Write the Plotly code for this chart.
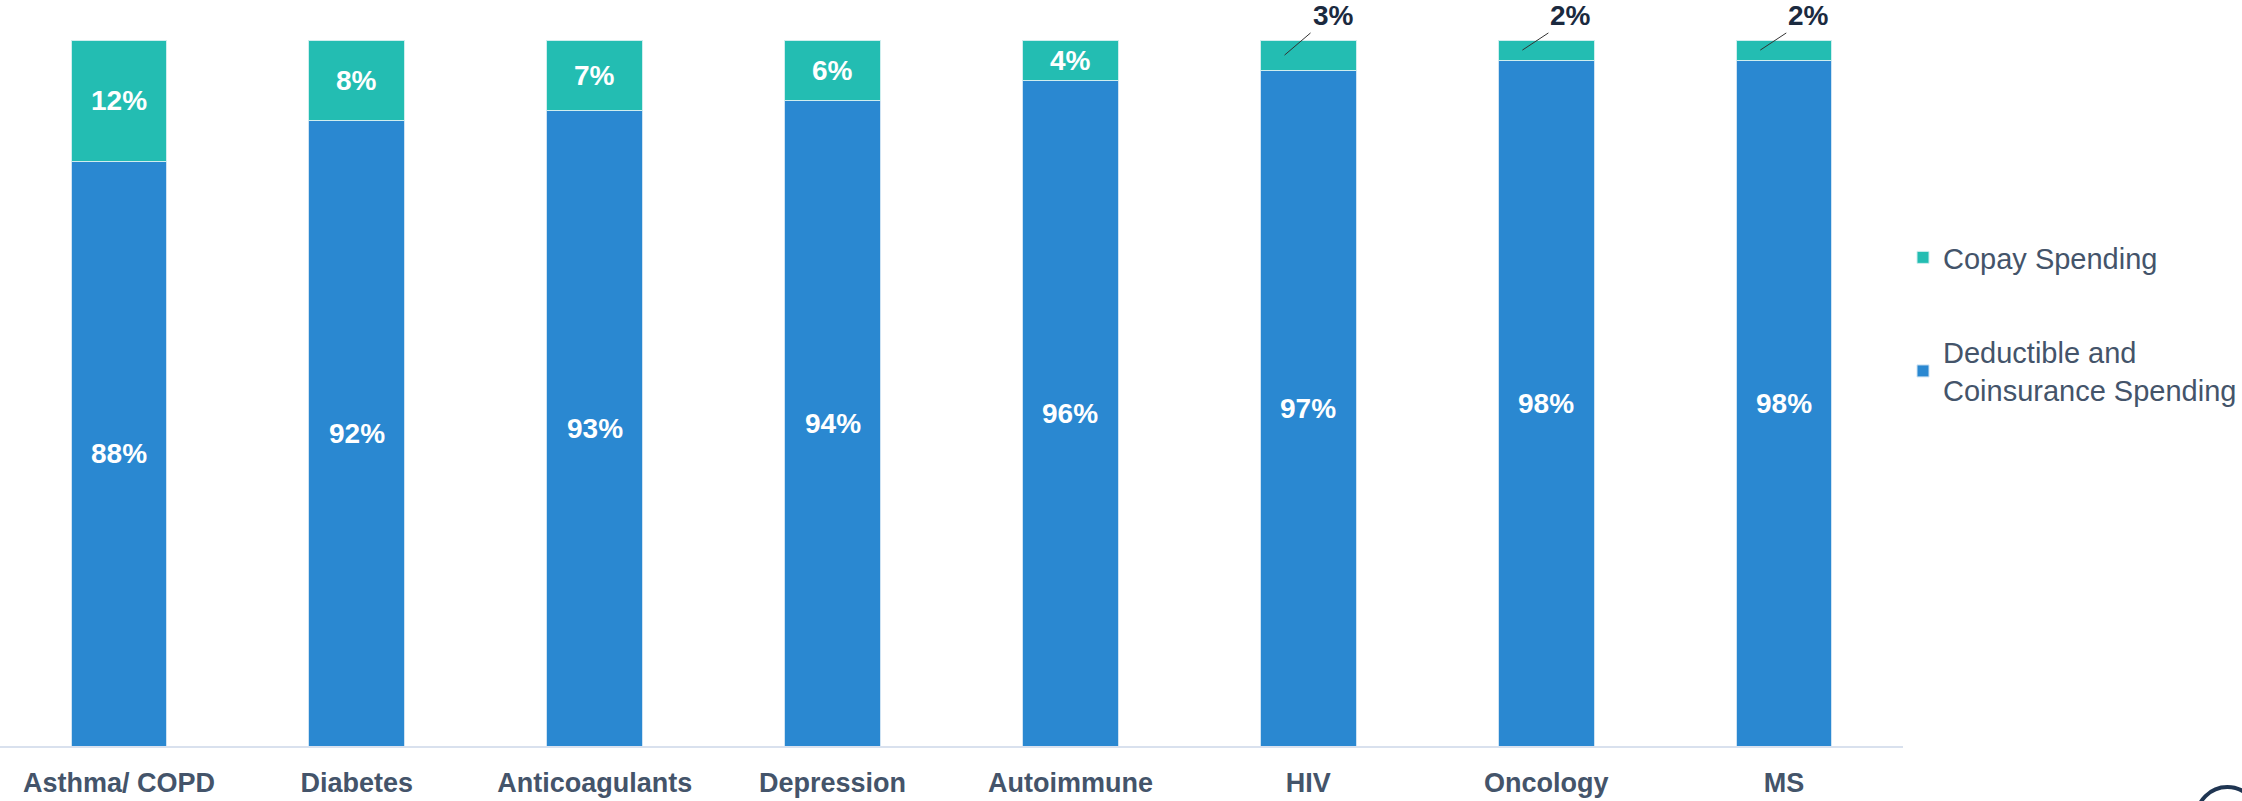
import plotly.graph_objects as go

categories = ["Asthma/ COPD", "Diabetes", "Anticoagulants", "Depression",
              "Autoimmune", "HIV", "Oncology", "MS"]
deductible = [88, 92, 93, 94, 96, 97, 98, 98]
copay = [12, 8, 7, 6, 4, 3, 2, 2]
y_min, y_max = 30, 100

BLUE = "#2A88D1"
TEAL = "#23BDB2"
SLATE = "#44546A"
FONT = "Liberation Sans"
PLOT_W = 1913

fig = go.Figure()
fig.add_trace(go.Bar(x=categories, y=deductible, name="Deductible and<br>Coinsurance Spending",
                     marker=dict(color=BLUE, line=dict(color="#cfe3f3", width=1)),
                     legendgroup="d", legendrank=2, hoverinfo="skip"))
fig.add_trace(go.Bar(x=categories, y=copay, name="Copay Spending",
                     marker=dict(color=TEAL, line=dict(color="#cfeeee", width=1)),
                     legendgroup="c", legendrank=1, hoverinfo="skip"))

ann = []
for i, (c, d, p) in enumerate(zip(categories, deductible, copay)):
    ann.append(dict(x=i, y=(y_min + d) / 2, text=f"<b>{d}%</b>", showarrow=False,
                    font=dict(family=FONT, size=28, color="white"), xref="x", yref="y"))
    if p >= 4:
        ann.append(dict(x=i, y=d + p / 2, text=f"<b>{p}%</b>", showarrow=False,
                        font=dict(family=FONT, size=28, color="white"), xref="x", yref="y"))
    else:
        ann.append(dict(x=i - 0.1, y=d + p / 2, text=f"<b>{p}%</b>", showarrow=True,
                        arrowhead=0, arrowwidth=1, arrowcolor="#333333",
                        ax=26, ay=y_max + 0.7, ayref="y", xanchor="left", yanchor="bottom",
                        font=dict(family=FONT, size=28, color="#1B2A3F"),
                        xref="x", yref="y"))

fig.update_layout(
    barmode="stack",
    bargap=0.597,
    width=2242, height=801,
    margin=dict(l=0, r=2242 - PLOT_W, t=40, b=55),
    plot_bgcolor="white", paper_bgcolor="white",
    font=dict(family=FONT, color=SLATE),
    annotations=ann,
    showlegend=True,
    legend=dict(x=1.0, y=0.728, xanchor="left", yanchor="top",
                traceorder="grouped", tracegroupgap=54,
                font=dict(family=FONT, size=29, color=SLATE)),
    shapes=[dict(type="circle", xref="paper", yref="paper",
                 x0=2208 / PLOT_W, x1=2270 / PLOT_W, y0=-0.058, y1=-0.146,
                 line=dict(color="#1F3552", width=4))],
)
fig.update_xaxes(showline=True, linecolor="#D9E1EE", linewidth=2, showgrid=False,
                 range=[-0.5, 7.5], ticks="", ticklabelstandoff=12,
                 tickfont=dict(family=FONT, size=27, color=SLATE),
                 tickprefix="<b>", ticksuffix="</b>")
fig.update_yaxes(range=[y_min, y_max], visible=False, showgrid=False)

fig.write_html("out.html", config={"displayModeBar": False},
               post_script="document.body.style.margin='0';")
